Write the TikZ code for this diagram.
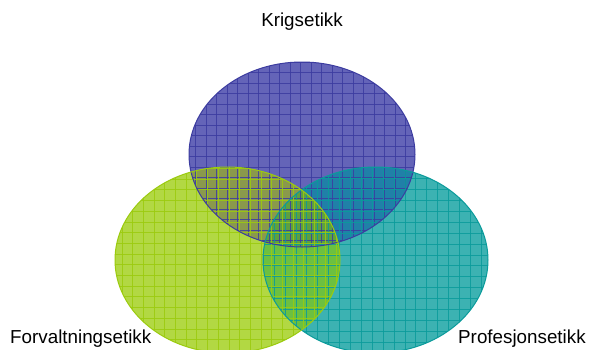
\documentclass[tikz,border=0pt]{standalone}
\usepackage{fontspec}
\setmainfont{Liberation Sans}
\definecolor{blueFill}{RGB}{100,100,184}
\definecolor{blueLine}{RGB}{60,60,160}
\definecolor{greenFill}{RGB}{178,216,67}
\definecolor{greenLine}{RGB}{155,203,14}
\definecolor{tealFill}{RGB}{60,178,178}
\definecolor{tealLine}{RGB}{10,155,155}
\definecolor{bgFill}{RGB}{138,153,76}
\definecolor{btFill}{RGB}{32,128,168}
\definecolor{gtFill}{RGB}{108,192,64}
\definecolor{bgtFill}{RGB}{94,160,64}
\def\EB{(302,154.5) ellipse [x radius=113pt, y radius=92.5pt]}
\def\EG{(227.5,260) ellipse [x radius=112.5pt, y radius=93pt]}
\def\ET{(375.5,260) ellipse [x radius=112.5pt, y radius=93pt]}
\tikzset{
  lab/.style={font=\fontsize{18.8}{22}\selectfont, inner sep=0pt, anchor=base, text=black},
  gridln/.style={line width=0.8pt, opacity=0.85},
  rim/.style={line width=1pt},
}
\begin{document}
\begin{tikzpicture}[x=1pt,y=-1pt]
\useasboundingbox[fill=white] (0,0) rectangle (590,349);
% base fills
\fill[blueFill] \EB;
\fill[tealFill] \ET;
\fill[greenFill] \EG;
% pairwise overlaps
\begin{scope}\clip \EB; \fill[bgFill] \EG; \end{scope}
\begin{scope}\clip \EB; \fill[btFill] \ET; \end{scope}
\begin{scope}\clip \EG; \fill[gtFill] \ET; \end{scope}
\begin{scope}\clip \EB; \clip \EG; \fill[bgtFill] \ET; \end{scope}
% grids
\begin{scope}\clip \EB;
  \foreach \k in {-10,...,12} \draw[gridln,blueLine] ({290+10.5*\k},40) -- ({290+10.5*\k},260);
  \foreach \k in {-3,...,16} \draw[gridln,blueLine] (180,{83.3+10.5*\k}) -- (420,{83.3+10.5*\k});
\end{scope}
\begin{scope}\clip \ET;
  \foreach \k in {-16,...,6} \draw[gridln,tealLine] ({426.7+10.9*\k},150) -- ({426.7+10.9*\k},360);
  \foreach \k in {-8,...,10} \draw[gridln,tealLine] (255,{244+10.9*\k}) -- (495,{244+10.9*\k});
\end{scope}
\begin{scope}\clip \EG;
  \foreach \k in {-4,...,18} \draw[gridln,greenLine] ({154+10.7*\k},150) -- ({154+10.7*\k},360);
  \foreach \k in {-8,...,11} \draw[gridln,greenLine] (110,{243.3+10.7*\k}) -- (345,{243.3+10.7*\k});
\end{scope}
% rims
\draw[rim,blueLine] \EB;
\draw[rim,tealLine] \ET;
\draw[rim,greenLine] \EG;
% labels
\node[lab] (krig) at (302,26) {Krigsetikk};
\node[lab,anchor=base west] (forv) at (10,343) {Forvaltningsetikk};
\node[lab,anchor=base west] (prof) at (458,343) {Profesjonsetikk};
\end{tikzpicture}
\end{document}
